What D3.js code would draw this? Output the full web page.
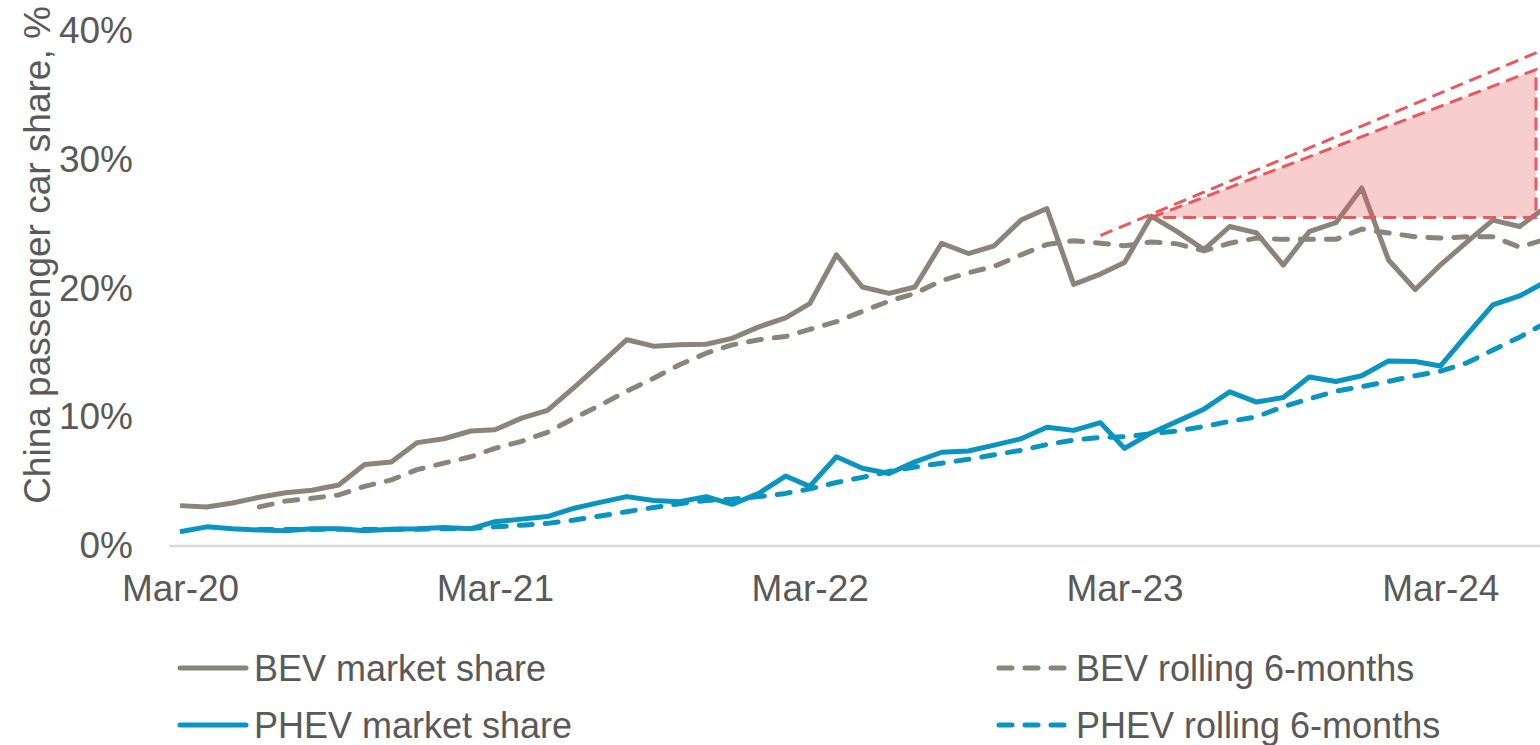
<!DOCTYPE html>
<html>
<head>
<meta charset="utf-8">
<script src="https://cdn.jsdelivr.net/npm/d3@7"></script>
<style>
  body { margin: 0; background: #fff; overflow: hidden; }
  text { font-family: "Liberation Sans", Arial, sans-serif; fill: #595959; }
</style>
</head>
<body>
<svg id="chart" width="1540" height="745"></svg>
<script>
// months Mar-20 .. Jul-24
var months = ["Mar-20","Apr-20","May-20","Jun-20","Jul-20","Aug-20","Sep-20","Oct-20","Nov-20","Dec-20",
  "Jan-21","Feb-21","Mar-21","Apr-21","May-21","Jun-21","Jul-21","Aug-21","Sep-21","Oct-21","Nov-21","Dec-21",
  "Jan-22","Feb-22","Mar-22","Apr-22","May-22","Jun-22","Jul-22","Aug-22","Sep-22","Oct-22","Nov-22","Dec-22",
  "Jan-23","Feb-23","Mar-23","Apr-23","May-23","Jun-23","Jul-23","Aug-23","Sep-23","Oct-23","Nov-23","Dec-23",
  "Jan-24","Feb-24","Mar-24","Apr-24","May-24","Jun-24","Jul-24"];

var bevShare = [3.1,3.0,3.3,3.75,4.1,4.3,4.7,6.3,6.5,8.0,
  8.3,8.9,9.0,9.9,10.5,12.3,14.1,16.0,15.5,15.6,15.65,16.1,
  17.0,17.7,18.8,22.6,20.1,19.6,20.1,23.5,22.7,23.3,25.3,26.2,
  20.3,21.1,22.0,25.6,24.4,23.0,24.8,24.3,21.8,24.4,25.1,27.8,
  22.2,19.9,21.8,23.6,25.3,24.8,26.3];

var bevRolling = [null,null,null,3.0,3.45,3.67,3.93,4.6,5.1,5.9,
  6.4,6.9,7.55,8.1,8.8,9.9,10.9,12.0,13.0,14.05,14.95,15.6,
  16.0,16.25,16.8,17.4,18.2,19.0,19.6,20.6,21.2,21.7,22.6,23.4,
  23.7,23.5,23.3,23.6,23.45,22.9,23.5,23.9,23.8,23.8,23.8,24.6,
  24.3,24.0,23.9,24.0,24.0,23.2,23.8];

var phevShare = [1.07,1.45,1.3,1.2,1.15,1.3,1.3,1.15,1.27,1.3,
  1.4,1.3,1.85,2.05,2.25,2.9,3.35,3.8,3.5,3.4,3.8,3.2,
  4.05,5.4,4.6,6.9,6.0,5.6,6.5,7.25,7.35,7.8,8.3,9.2,
  8.95,9.55,7.55,8.75,9.65,10.6,11.95,11.15,11.5,13.1,12.75,13.2,
  14.35,14.3,13.95,16.4,18.7,19.4,20.5];

var phevRolling = [null,null,null,1.25,1.25,1.25,1.27,1.25,1.25,1.27,
  1.3,1.32,1.45,1.58,1.72,1.98,2.3,2.63,2.95,3.25,3.5,3.6,
  3.8,4.05,4.4,4.9,5.3,5.75,6.1,6.4,6.7,7.05,7.4,7.85,
  8.2,8.4,8.45,8.7,8.9,9.25,9.65,10.0,10.8,11.4,12.0,12.35,
  12.75,13.2,13.55,14.2,15.2,16.2,17.3];

var xTickLabels = ["Mar-20","Mar-21","Mar-22","Mar-23","Mar-24"];
var yTicks = [0,10,20,30,40];

// trend annotation (red dashed lines + shaded triangle)
var trendLine = [["2023-02-01", 24.1], ["2024-07-01", 38.6]];
var gapTriangle = [["2023-04-01", 25.5], ["2024-06-20", 37.0], ["2024-06-20", 25.5]];

var legendItems = [
  { name: "BEV market share", color: "#8a847b", dashed: false },
  { name: "BEV rolling 6-months", color: "#8a847b", dashed: true },
  { name: "PHEV market share", color: "#0a95c1", dashed: false },
  { name: "PHEV rolling 6-months", color: "#0a95c1", dashed: true }
];

var parseMonth = d3.timeParse("%b-%y");
var parseDay = d3.timeParse("%Y-%m-%d");
var dates = months.map(parseMonth);

var svg = d3.select("#chart");

var x = d3.scaleTime()
  .domain([dates[0], dates[dates.length - 1]])
  .range([180, 1545.5]);

var y = d3.scaleLinear()
  .domain([0, 40])
  .range([545.5, 31]);

//axes
var xAxis = d3.axisBottom(x)
  .tickValues(xTickLabels.map(parseMonth))
  .tickFormat(d3.timeFormat("%b-%y"))
  .tickSize(0)
  .tickPadding(29);

var gx = svg.append("g")
  .attr("transform", "translate(0,546)")
  .call(xAxis);
gx.select(".domain").remove();
gx.selectAll("text").style("font-size", "37px").style("fill", "#595959");

svg.append("line")
  .attr("x1", 169).attr("x2", 1540)
  .attr("y1", 546).attr("y2", 546)
  .style("stroke", "#d9d9d9")
  .style("stroke-width", 2.5);

var yAxis = d3.axisLeft(y)
  .tickValues(yTicks)
  .tickFormat(function (d) { return d + "%"; })
  .tickSize(0)
  .tickPadding(36);

var gy = svg.append("g")
  .attr("transform", "translate(169,0)")
  .call(yAxis);
gy.select(".domain").remove();
gy.selectAll("text").style("font-size", "37px").style("fill", "#595959");

svg.append("text")
  .attr("transform", "translate(37,255) rotate(-90)")
  .attr("text-anchor", "middle")
  .attr("dominant-baseline", "central")
  .style("font-size", "37px")
  .text("China passenger car share, %");

//series lines
var line = d3.line()
  .defined(function (d) { return d != null; })
  .x(function (d, i) { return x(dates[i]); })
  .y(function (d) { return y(d); });

var series = [
  { values: bevRolling, color: "#8a847b", dashed: true },
  { values: phevRolling, color: "#0a95c1", dashed: true },
  { values: bevShare, color: "#8a847b", dashed: false },
  { values: phevShare, color: "#0a95c1", dashed: false }
];

series.forEach(function (s) {
  svg.append("path")
    .datum(s.values)
    .attr("d", line)
    .style("fill", "none")
    .style("stroke", s.color)
    .style("stroke-width", 5)
    .style("stroke-linejoin", "round")
    .style("stroke-linecap", s.dashed ? "round" : "butt")
    .style("stroke-dasharray", s.dashed ? "13,13" : null);
});

//annotation
var annoLine = d3.line()
  .x(function (d) { return x(parseDay(d[0])); })
  .y(function (d) { return y(d[1]); });

svg.append("path")
  .datum(gapTriangle)
  .attr("d", function (d) { return annoLine(d) + "Z"; })
  .style("fill", "#e8585c")
  .style("fill-opacity", 0.3)
  .style("stroke", "#e8585c")
  .style("stroke-width", 3)
  .style("stroke-dasharray", "13,7");

svg.append("path")
  .datum(trendLine)
  .attr("d", annoLine)
  .style("fill", "none")
  .style("stroke", "#e8585c")
  .style("stroke-width", 3)
  .style("stroke-dasharray", "13,7");

//legend
var legend = svg.append("g");
legendItems.forEach(function (item, i) {
  var lx = (i % 2 === 0) ? 178 : 997;
  var ly = (i < 2) ? 668 : 725;
  var g = legend.append("g").attr("transform", "translate(" + lx + "," + ly + ")");
  g.append("line")
    .attr("x1", 2).attr("x2", 68)
    .attr("y1", 0).attr("y2", 0)
    .style("stroke", item.color)
    .style("stroke-width", 5)
    .style("stroke-linecap", "round")
    .style("stroke-dasharray", item.dashed ? "13,13" : null);
  g.append("text")
    .attr("x", (i % 2 === 0) ? 76 : 79)
    .attr("y", 0)
    .attr("dominant-baseline", "central")
    .style("font-size", "36px")
    .text(item.name);
});
</script>
</body>
</html>
